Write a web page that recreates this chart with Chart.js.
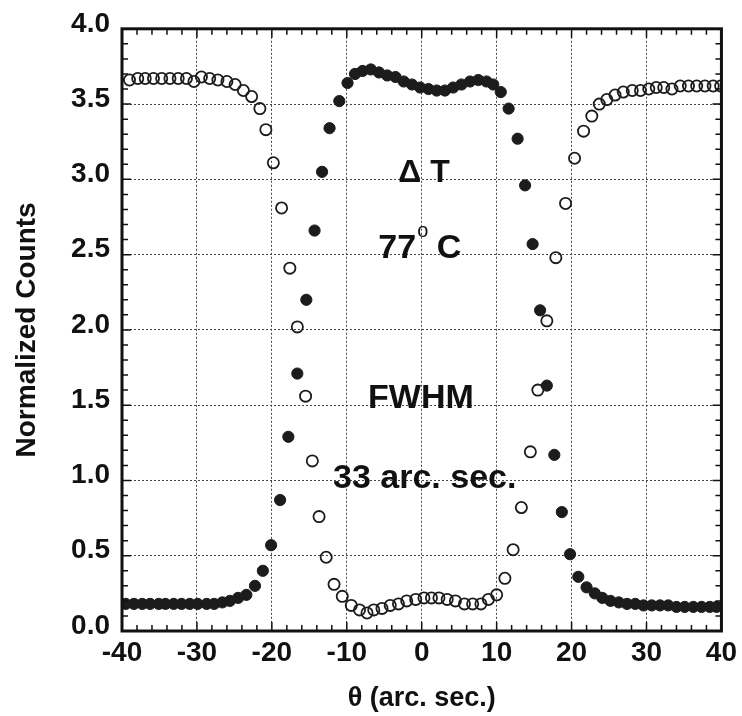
<!DOCTYPE html>
<html>
<head>
<meta charset="utf-8">
<script src="https://cdn.jsdelivr.net/npm/chart.js@4/dist/chart.umd.min.js"></script>
<style>
    html, body { margin: 0; padding: 0; background: #fff; }
    canvas { display: block; }
</style>
</head>
<body>
<canvas id="chart" width="742" height="716"></canvas>
<script>
// open circles
const openX = [-39.0, -37.9, -36.9, -35.8, -34.7, -33.6, -32.5, -31.4, -30.4, -29.4, -28.3, -27.2, -26.0, -24.9, -23.8, -22.7, -21.6, -20.8, -19.8, -18.7, -17.6, -16.6, -15.5, -14.6, -13.7, -12.75,
    -11.7, -10.6, -9.4, -8.3, -7.3, -6.4, -5.3, -4.2, -3.1, -2.0, -0.8, 0.3, 1.3, 2.3, 3.4, 4.5, 5.7, 6.8, 7.9, 8.9, 10.0, 11.1, 12.2, 13.3, 14.5, 15.5,
    16.7, 17.9, 19.2, 20.4, 21.6, 22.7, 23.7, 24.7, 25.8, 26.9, 28.1, 29.2, 30.3, 31.3, 32.3, 33.4, 34.5, 35.6, 36.7, 37.8, 38.9, 39.9];
const openY = [3.66, 3.67, 3.67, 3.67, 3.67, 3.67, 3.67, 3.67, 3.65, 3.68, 3.67, 3.66, 3.65, 3.63, 3.59, 3.55, 3.47, 3.33, 3.11, 2.81, 2.41, 2.02, 1.56, 1.13, 0.76, 0.49,
    0.31, 0.23, 0.17, 0.14, 0.12, 0.14, 0.15, 0.17, 0.18, 0.20, 0.21, 0.22, 0.22, 0.22, 0.21, 0.20, 0.18, 0.18, 0.18, 0.21, 0.24, 0.35, 0.54, 0.82, 1.19, 1.60,
    2.06, 2.48, 2.84, 3.14, 3.32, 3.42, 3.50, 3.53, 3.56, 3.58, 3.59, 3.59, 3.60, 3.61, 3.61, 3.60, 3.62, 3.62, 3.62, 3.62, 3.62, 3.62];

// filled circles
const filledX = [-39.5, -38.4, -37.3, -36.25, -35.1, -34.2, -33.1, -32.05, -30.95, -29.9, -28.7, -27.7, -26.6, -25.6, -24.5, -23.4, -22.25, -21.2, -20.1, -18.9, -17.8, -16.6,
    -15.4, -14.3, -13.3, -12.3, -11.0, -9.9, -8.9, -7.9, -6.8, -5.7, -4.6, -3.5, -2.4, -1.3, -0.2, 0.9, 2.0, 3.1, 4.2, 5.3, 6.45, 7.55, 8.65, 9.55, 10.55,
    11.6, 12.8, 13.8, 14.8, 15.8, 16.7, 17.7, 18.7, 19.8, 20.9, 22.0, 23.1, 24.1, 25.2, 26.3, 27.4, 28.5, 29.6, 30.7, 31.8, 32.9, 34.0, 35.1, 36.25, 37.35, 38.45, 39.35];
const filledY = [0.18, 0.18, 0.18, 0.18, 0.18, 0.18, 0.18, 0.18, 0.18, 0.18, 0.18, 0.18, 0.19, 0.20, 0.22, 0.24, 0.30, 0.40, 0.57, 0.87, 1.29, 1.71,
    2.20, 2.66, 3.05, 3.34, 3.52, 3.64, 3.70, 3.72, 3.73, 3.71, 3.69, 3.68, 3.65, 3.63, 3.61, 3.60, 3.59, 3.59, 3.61, 3.63, 3.65, 3.66, 3.65, 3.63, 3.58,
    3.47, 3.27, 2.96, 2.57, 2.13, 1.63, 1.17, 0.79, 0.51, 0.36, 0.29, 0.25, 0.22, 0.20, 0.19, 0.18, 0.18, 0.17, 0.17, 0.17, 0.17, 0.16, 0.16, 0.16, 0.16, 0.16, 0.16];

// text inside the plot (x, baseline y in data units)
const noteText = ['\u0394 T', '77', 'FWHM', '33 arc. sec.'];
const noteX = [0.3, -0.25, -0.1, 0.4];
const noteY = [2.98, 2.48, 1.48, 0.95];

const FONT = "'Liberation Sans', Arial, Helvetica, sans-serif";

const toPoints = (xs, ys) => xs.map((x, i) => ({ x: x, y: ys[i] }));

// frame, inward ticks and the annotations
const framePlugin = {
    id: 'frame',
    beforeDraw(chart) {
        const ctx = chart.ctx;
        ctx.save();
        ctx.fillStyle = '#fff';
        ctx.fillRect(0, 0, chart.width, chart.height);
        ctx.restore();
    },
    afterDraw(chart) {
        const { ctx, chartArea: a, scales: { x, y } } = chart;
        ctx.save();
        ctx.strokeStyle = '#111';
        ctx.lineWidth = 1.5;
        ctx.beginPath();
        for (let v = -40; v <= 40; v += 2) {
            const px = x.getPixelForValue(v);
            const len = v % 10 === 0 ? 9 : 6;
            ctx.moveTo(px, a.bottom); ctx.lineTo(px, a.bottom - len);
            ctx.moveTo(px, a.top); ctx.lineTo(px, a.top + len);
        }
        for (let k = 0; k <= 40; k++) {
            const py = y.getPixelForValue(k / 10);
            const len = k % 5 === 0 ? 9 : 6;
            ctx.moveTo(a.left, py); ctx.lineTo(a.left + len, py);
            ctx.moveTo(a.right, py); ctx.lineTo(a.right - len, py);
        }
        ctx.stroke();

        ctx.lineWidth = 3;
        ctx.strokeRect(a.left, a.top, a.right - a.left, a.bottom - a.top);

        // annotations
        ctx.fillStyle = '#111';
        ctx.textBaseline = 'alphabetic';
        ctx.textAlign = 'center';
        noteText.forEach((t, i) => {
            const px = x.getPixelForValue(noteX[i]);
            const py = y.getPixelForValue(noteY[i]);
            if (t === '77') {
                // 77° C with a raised small o
                ctx.font = 'bold 34px ' + FONT;
                const w1 = ctx.measureText('77').width;
                const w3 = ctx.measureText(' C').width;
                ctx.font = '20px ' + FONT;
                const w2 = ctx.measureText('o').width;
                let left = px - (w1 + w2 + w3) / 2;
                ctx.textAlign = 'left';
                ctx.font = 'bold 34px ' + FONT;
                ctx.fillText('77', left, py);
                ctx.font = '20px ' + FONT;
                ctx.fillText('o', left + w1 + 1, py - 21);
                ctx.font = 'bold 34px ' + FONT;
                ctx.fillText(' C', left + w1 + w2, py);
                ctx.textAlign = 'center';
            } else {
                ctx.font = (i === 0 ? 'bold 32px ' : 'bold 34px ') + FONT;
                ctx.fillText(t, px, py);
            }
        });
        ctx.restore();
    }
};

const ctx = document.getElementById('chart').getContext('2d');
new Chart(ctx, {
    type: 'scatter',
    data: {
        datasets: [
            {
                label: 'filled',
                data: toPoints(filledX, filledY),
                pointStyle: 'circle',
                pointRadius: 5.6,
                pointBackgroundColor: '#1c1c1c',
                pointBorderColor: '#1c1c1c',
                pointBorderWidth: 1
            },
            {
                label: 'open',
                data: toPoints(openX, openY),
                pointStyle: 'circle',
                pointRadius: 5.6,
                pointBackgroundColor: 'rgba(255,255,255,0)',
                pointBorderColor: '#1c1c1c',
                pointBorderWidth: 1.8
            }
        ]
    },
    options: {
        responsive: false,
        animation: false,
        layout: { padding: { left: 0, right: 13, top: 28, bottom: 0 } },
        plugins: {
            legend: { display: false },
            tooltip: { enabled: false }
        },
        scales: {
            x: {
                type: 'linear',
                min: -40,
                max: 40,
                afterFit: (scale) => { scale.height = 85; },
                ticks: {
                    stepSize: 10,
                    color: '#111',
                    padding: 5,
                    maxRotation: 0,
                    font: { family: FONT, size: 28, weight: 'bold' }
                },
                grid: { color: '#444', lineWidth: 1, drawTicks: false },
                border: { display: false, dash: [2, 2] },
                title: {
                    display: true,
                    text: '\u03b8 (arc. sec.)',
                    color: '#111',
                    padding: { top: 0, bottom: 1 },
                    font: { family: FONT, size: 27, weight: 'bold' }
                }
            },
            y: {
                type: 'linear',
                min: 0,
                max: 4,
                afterFit: (scale) => { scale.width = 122; },
                ticks: {
                    stepSize: 0.5,
                    color: '#111',
                    padding: 12,
                    labelOffset: -5,
                    callback: (v) => v.toFixed(1),
                    font: { family: FONT, size: 28, weight: 'bold' }
                },
                grid: { color: '#444', lineWidth: 1, drawTicks: false },
                border: { display: false, dash: [2, 2] },
                title: {
                    display: true,
                    text: 'Normalized Counts',
                    color: '#111',
                    padding: { top: 10, bottom: 0 },
                    font: { family: FONT, size: 28, weight: 'bold' }
                }
            }
        }
    },
    plugins: [framePlugin]
});
</script>
</body>
</html>
